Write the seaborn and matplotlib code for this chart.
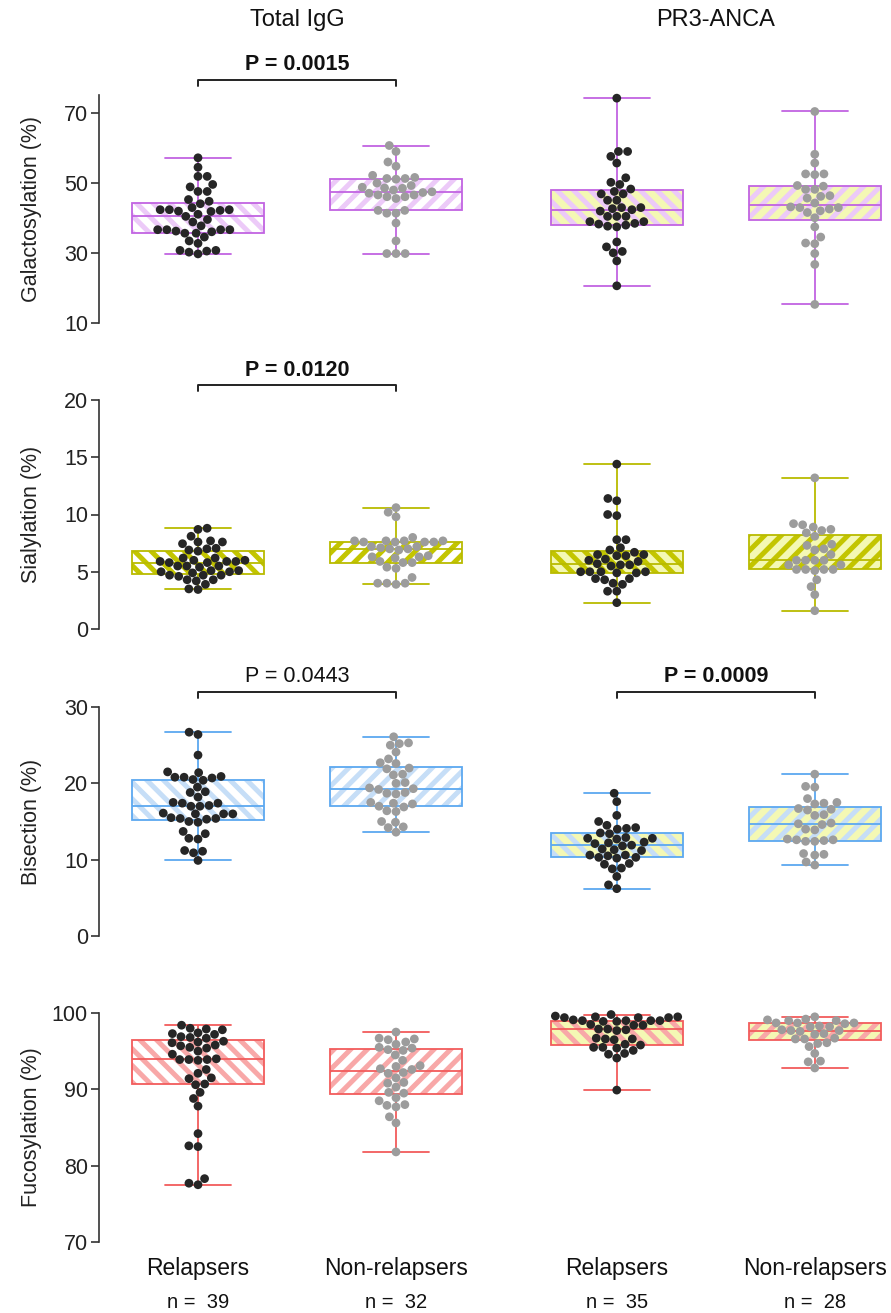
import numpy as np
import pandas as pd
import matplotlib
matplotlib.use("Agg")
import matplotlib.pyplot as plt
import matplotlib.transforms as mtransforms
from matplotlib.patches import PathPatch
import seaborn as sns

# ---------------- data ----------------
cohorts = ["Total IgG", "PR3-ANCA"]
group_labels = ["Relapsers", "Non-relapsers", "Relapsers", "Non-relapsers"]

gal_igg_rel = [57.1, 54.4, 51.8, 51.8, 49.5, 48.8, 47.5, 47.5, 45.2, 44.7, 44.0,
               42.3, 42.3, 41.8, 42.1, 42.3, 42.9, 41.9, 41.0, 40.4, 39.5, 38.8, 37.7,
               36.6, 36.6, 36.0, 35.6, 35.6, 36.2, 36.6, 36.6,
               34.5, 33.4, 32.7, 30.7, 30.5, 29.7, 30.2, 30.7]
gal_igg_nr = [60.6, 58.9, 55.9, 54.7, 52.1, 51.2, 51.0, 51.2, 51.5,
              49.9, 48.7, 48.4, 47.9, 48.5, 49.2,
              47.2, 46.5, 46.0, 45.5, 46.0, 46.5, 47.0, 47.4,
              42.1, 41.3, 41.3, 42.1, 38.5, 33.4, 29.8, 29.8, 29.8]
gal_pr3_rel = [74.1, 58.9, 58.9, 57.5, 55.6, 51.4, 49.5, 50.1, 48.2,
               47.5, 46.8, 46.8, 45.0, 45.0, 42.9, 42.3, 42.9, 41.9, 42.6,
               40.4, 40.4, 40.4, 38.9, 38.2, 37.6, 37.4, 37.9, 38.4, 38.9,
               33.1, 31.7, 30.4, 30.0, 27.7, 20.6]
gal_pr3_nr = [70.3, 58.1, 55.6, 52.5, 52.3, 52.5, 49.2, 48.1, 48.1, 49.0,
              46.1, 45.6, 46.3, 44.2, 42.9, 42.5, 40.0, 41.5, 42.0, 42.9, 43.1,
              37.4, 34.5, 32.6, 32.8, 29.8, 26.7, 15.3]

sia_igg_rel = [8.8, 8.7, 8.1, 7.6, 7.6, 7.7, 7.45, 7.05, 7.0, 6.9, 6.8, 6.2, 6.2,
               6.0, 5.9, 5.8, 6.0, 5.9, 5.8, 5.9, 5.5, 5.5, 5.4, 5.5,
               5.0, 5.1, 4.9, 5.0, 5.1, 4.7, 4.7, 4.6, 4.7, 4.3, 4.2, 4.3, 3.9, 3.5, 3.45]
sia_igg_nr = [10.6, 10.2, 9.8, 8.0, 7.7, 7.6, 7.7, 7.6, 7.7, 7.6, 7.7, 7.6,
              7.2, 7.0, 7.1, 7.2, 7.0, 6.9, 6.4, 6.3, 6.2, 6.3, 5.8, 5.9, 5.8,
              5.3, 5.4, 4.5, 4.0, 3.9, 4.0, 4.0]
sia_pr3_rel = [14.4, 11.4, 11.2, 10.0, 9.9, 7.8, 7.8, 7.1, 6.9, 6.7,
               6.5, 6.4, 6.4, 6.5, 6.0, 6.1, 5.9, 5.6, 5.7, 5.5, 5.6,
               5.0, 5.0, 4.9, 5.0, 5.0, 4.9, 4.4, 4.3, 4.4, 4.0, 3.9, 3.3, 3.3, 2.3]
sia_pr3_nr = [13.2, 9.1, 9.2, 8.9, 8.7, 8.6, 8.4, 8.1, 7.3, 7.4, 6.9, 7.0, 6.5,
              6.0, 6.0, 6.0, 6.0, 5.6, 5.6, 5.2, 5.2, 5.1, 5.2, 5.2, 4.3, 3.7, 3.0, 1.6]

bis_igg_rel = [26.7, 26.4, 23.7, 21.5, 21.4, 20.8, 20.9, 20.7, 20.8, 20.4,
               20.5, 19.5, 18.9, 18.8, 18.2, 17.4, 17.4, 17.5, 17.0, 17.1, 17.0,
               16.0, 16.1, 16.0, 16.0, 15.4, 15.4, 15.5, 15.3, 15.0, 14.9,
               13.7, 13.4, 12.8, 12.7, 11.2, 11.1, 10.9, 9.9]
bis_igg_nr = [26.1, 25.2, 25.0, 25.3, 24.1, 23.2, 22.6, 22.7, 21.9, 22.0, 21.1, 21.2,
              20.0, 20.1, 19.3, 19.2, 19.4, 18.7, 18.6, 18.8, 17.4, 17.3, 17.5,
              16.9, 17.0, 16.3, 16.4, 14.9, 15.0, 14.3, 14.2, 13.6]
bis_pr3_rel = [18.7, 17.6, 15.8, 15.0, 14.5, 14.1, 14.2, 14.0, 13.5, 13.4,
               12.8, 12.9, 12.7, 12.8, 12.2, 12.3, 12.1, 11.9, 11.8,
               11.3, 11.2, 11.4, 10.6, 10.6, 10.5, 10.3, 10.2, 10.3,
               9.5, 9.4, 8.9, 8.8, 7.8, 6.7, 6.2]
bis_pr3_nr = [21.2, 19.5, 19.6, 18.0, 17.4, 17.3, 17.5, 16.6, 16.5, 16.7,
              15.8, 15.9, 14.7, 14.6, 14.8, 13.9, 14.0,
              12.6, 12.5, 12.7, 12.6, 12.4, 12.4, 10.8, 10.7, 10.6, 9.7, 9.3]

fuc_igg_rel = [98.4, 97.9, 97.8, 98.0, 97.3, 97.2, 97.4, 96.8, 96.9, 96.7,
               96.2, 96.3, 96.1, 95.8, 95.7, 95.4, 95.5, 95.0, 94.6, 93.9,
               93.9, 93.8, 94.0, 93.9, 92.6, 92.1, 91.5, 91.4, 90.7, 90.6,
               89.6, 88.8, 87.8, 84.2, 82.6, 82.5, 78.3, 77.7, 77.5]
fuc_igg_nr = [97.5, 96.6, 96.7, 96.5, 96.2, 95.9, 95.5, 95.4, 95.1, 95.2, 94.5, 93.8,
              93.0, 93.1, 92.6, 92.7, 92.1, 92.2, 91.5, 90.8, 90.9, 90.3, 89.5, 89.6,
              88.9, 88.5, 87.9, 88.0, 87.7, 86.4, 85.6, 81.8]
fuc_pr3_rel = [99.8, 99.4, 99.5, 99.4, 99.6, 99.4, 99.5,
               99.0, 99.0, 98.9, 99.1, 99.0, 98.9, 99.0,
               98.4, 98.5, 98.4, 97.9, 97.9, 97.7, 97.8,
               96.6, 96.6, 96.5, 96.7, 95.8, 95.9,
               95.5, 95.4, 95.5, 95.1, 94.7, 94.6, 94.1, 89.9]
fuc_pr3_nr = [99.5, 99.0, 99.1, 99.0, 99.2, 98.7, 98.7, 98.6, 98.7,
              98.2, 98.3, 98.2, 97.7, 97.8, 97.7, 97.6, 97.2, 97.3,
              96.6, 96.7, 96.6, 96.0, 96.1, 95.6, 94.7, 93.7, 93.6, 92.8]

row_labels = ["Galactosylation (%)", "Sialylation (%)", "Bisection (%)", "Fucosylation (%)"]
row_data = [
    [gal_igg_rel, gal_igg_nr, gal_pr3_rel, gal_pr3_nr],
    [sia_igg_rel, sia_igg_nr, sia_pr3_rel, sia_pr3_nr],
    [bis_igg_rel, bis_igg_nr, bis_pr3_rel, bis_pr3_nr],
    [fuc_igg_rel, fuc_igg_nr, fuc_pr3_rel, fuc_pr3_nr],
]
row_ticks = [[10, 30, 50, 70], [0, 5, 10, 15, 20], [0, 10, 20, 30], [70, 80, 90, 100]]
row_ylim = [(10, 75), (0, 20), (0, 30), (70, 100)]
# p-values: (row, first box, second box, text, bold)
pvalues = [(0, 0, 1, "P = 0.0015", True),
           (1, 0, 1, "P = 0.0120", True),
           (2, 0, 1, "P = 0.0443", False),
           (2, 2, 3, "P = 0.0009", True)]

# ---------------- style ----------------
positions = [0.0, 1.0, 2.115, 3.115]
line_colors = ["#c163e2", "#b9bb00", "#5ca8f0", "#f25c5c"]
hatch_colors = ["#eccaf8", "#c3c500", "#c6def7", "#f8a8a8"]
yellow = "#f4f8b4"
face_colors = ["white", "white", yellow, yellow]
hatches = ["\\\\", "//", "\\\\", "//"]
dot_colors = {"Relapsers": "#262626", "Non-relapsers": "#9c9c9c"}

sns.set_style("ticks")
plt.rcParams["font.family"] = ["Liberation Sans", "DejaVu Sans"]
plt.rcParams["hatch.linewidth"] = 3.6

W, H = 891, 1313
fig = plt.figure(figsize=(W / 100, H / 100), dpi=100)

row_px = [(95, 323), (400, 629), (707, 936), (1013, 1242)]
left_px = 99
axes = []
for (top, bot) in row_px:
    ax = fig.add_axes([left_px / W, 1 - bot / H, (W - left_px) / W, (bot - top) / H])
    axes.append(ax)

for r, ax in enumerate(axes):
    vals, pos, grp = [], [], []
    for i, arr in enumerate(row_data[r]):
        vals += list(arr)
        pos += [positions[i]] * len(arr)
        grp += [group_labels[i]] * len(arr)
    df = pd.DataFrame({"pos": pos, "val": vals, "grp": grp})

    sns.boxplot(data=df, x="pos", y="val", native_scale=True, whis=(0, 100),
                width=0.667, showfliers=False, color="white",
                linecolor=line_colors[r], linewidth=1.3, ax=ax)
    boxes = sorted(list(ax.patches), key=lambda p: p.get_path().vertices[:, 0].mean())
    for i, b in enumerate(boxes):
        b.set_facecolor(face_colors[i])
        b.set_edgecolor("none")
        b.set_zorder(1.5)
        hp = PathPatch(b.get_path(), transform=b.get_transform(), facecolor="none",
                       edgecolor=hatch_colors[r], linewidth=0, hatch=hatches[i], zorder=1.6)
        ax.add_patch(hp)
        op = PathPatch(b.get_path(), transform=b.get_transform(), facecolor="none",
                       edgecolor=line_colors[r], linewidth=1.3, zorder=1.7)
        ax.add_patch(op)
    for ln in ax.lines:
        ln.set_zorder(2)

    sns.swarmplot(data=df, x="pos", y="val", hue="grp", palette=dot_colors,
                  native_scale=True, size=6.3, linewidth=0, legend=False, ax=ax)
    for c in ax.collections:
        c.set_zorder(3)
        c.set_clip_on(False)

    ax.set_xlim(-0.5, 3.5)
    ax.set_ylim(*row_ylim[r])
    ax.set_yticks(row_ticks[r])
    ax.set_yticklabels([str(t) for t in row_ticks[r]])
    for s in ["top", "right", "bottom"]:
        ax.spines[s].set_visible(False)
    ax.spines["left"].set_linewidth(1.2)
    ax.spines["left"].set_color("#333333")
    ax.tick_params(axis="x", bottom=False, labelbottom=False)
    ax.tick_params(axis="y", length=6, width=1.2, color="#333333",
                   labelsize=15.5, labelcolor="#222222", pad=2)
    ax.set_xlabel("")
    ax.set_ylabel(row_labels[r], fontsize=15.5, color="#222222")
    ax.yaxis.set_label_coords(-0.072, 0.5)

# p-value brackets
for (r, a, b, txt, bold) in pvalues:
    ax = axes[r]
    hpx = row_px[r][1] - row_px[r][0]
    tr = mtransforms.blended_transform_factory(ax.transData, ax.transAxes)
    y = 1 + 15 / hpx
    d = 6 / hpx
    x0, x1 = positions[a], positions[b]
    ax.plot([x0, x0, x1, x1], [y - d, y, y, y - d], color="#222222", lw=1.4,
            transform=tr, clip_on=False)
    ax.text((x0 + x1) / 2, y + 15 / hpx, txt, transform=tr, ha="center", va="center",
            fontsize=15.5, fontweight="bold" if bold else "normal", color="#111111")

# cohort titles
ax = axes[0]
hpx = row_px[0][1] - row_px[0][0]
tr = mtransforms.blended_transform_factory(ax.transData, ax.transAxes)
for k, name in enumerate(cohorts):
    xc = (positions[2 * k] + positions[2 * k + 1]) / 2
    ax.text(xc, 1 + 75 / hpx, name, transform=tr, ha="center", va="center",
            fontsize=17, color="#111111")

# group labels and n
ax = axes[-1]
hpx = row_px[-1][1] - row_px[-1][0]
tr = mtransforms.blended_transform_factory(ax.transData, ax.transAxes)
for i in range(4):
    ax.text(positions[i], -26 / hpx, group_labels[i], transform=tr, ha="center",
            va="center", fontsize=16.5, color="#111111")
    ax.text(positions[i], -60 / hpx, "n =  %d" % len(row_data[0][i]), transform=tr,
            ha="center", va="center", fontsize=14.5, color="#111111")

fig.savefig("out.png", dpi=100)
